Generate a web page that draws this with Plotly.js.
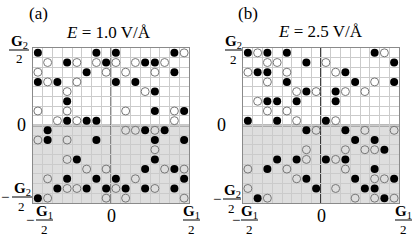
<!DOCTYPE html>
<html>
<head>
<meta charset="utf-8">
<script src="https://cdn.plot.ly/plotly-3.0.1.min.js"></script>
<style>html,body{margin:0;padding:0;background:#fff;}#plot{width:415px;height:240px;}</style>
</head>
<body>
<div id="plot"></div>
<script>
// ---- data: grid cell indices (column from left, row from top), 16x16 grid ----
const aFilledCol = [0,6,8,14, 3,7,11,12, 5,14, 0,2,8,10, 12, 3, 12,15, 3,5,6, 1,11,13, 1,6,12,15, 4,12, 11,14, 3,6,8,15, 2,5,7,9,11,14, 0];
const aFilledRow = [0,0,0,0, 1,1,1,1, 2,2, 3,3,3,3, 4, 5, 6,6, 7,7,7, 8,8,8, 9,9,9,9, 11,11, 12,12, 13,13,13,13, 14,14,14,14,14,14, 15];
const aOpenCol = [15, 1,4,6,8,10,13, 0,7,9,12, 1,4, 3,11, 0,3,9,14, 2,4,14, 9,10,12, 0,3, 12, 3, 5,7,13,15, 1,10, 3,4,8,12, 1,7,9,15];
const aOpenRow = [0, 1,1,1,1,1,1, 2,2,2,2, 3,3, 4,4, 6,6,6,6, 7,7,7, 8,8,8, 9,9, 10, 11, 12,12,12,12, 13,13, 14,14,14,14, 15,15,15,15];

const bFilledCol = [0,2,4,13, 6,15, 1,2,10, 4,11,15, 6,9, 2,3,5,9, 0,3,8, 6,10, 11,13, 14, 3,5,8,10, 2,13, 6,11,15, 7,12,13, 1,14];
const bFilledRow = [0,0,0,0, 1,1, 2,2,2, 3,3,3, 4,4, 5,5,5,5, 7,7,7, 8,8, 9,9, 10, 11,11,11,11, 12,12, 13,13,13, 14,14,14, 15,15];
const bOpenCol = [1,14, 2,3,8, 0,4,9, 2,13, 5,7,10,12, 1, 2,4, 5,9, 7,12,15, 6,10,12,13, 6,9, 0,4,10, 5,13,14, 0,9, 2,11,13,15];
const bOpenRow = [0,0, 1,1,1, 2,2,2, 3,3, 4,4,4,4, 5, 6,6, 7,7, 8,8,8, 10,10,10,10, 11,11, 12,12,12, 13,13,13, 14,14, 15,15,15,15];

const panelLabels = ['(a)', '(b)'];
const fieldValues = ['1.0', '2.5'];

// ---- layout helpers ----
const W = 415, H = 240;
const F = 'Liberation Serif, DejaVu Serif, serif';
const px = x => x / W;
const py = y => 1 - y / H;

const filledMarker = {symbol: 'circle', size: 8, color: '#000', line: {width: 0}};
const openMarker = {symbol: 'circle-open', size: 8, color: '#777', line: {width: 1, color: '#777'}};

const traces = [
  {x: aFilledCol, y: aFilledRow, xaxis: 'x', yaxis: 'y', mode: 'markers', type: 'scatter', marker: filledMarker, hoverinfo: 'skip'},
  {x: aOpenCol, y: aOpenRow, xaxis: 'x', yaxis: 'y', mode: 'markers', type: 'scatter', marker: openMarker, hoverinfo: 'skip'},
  {x: bFilledCol, y: bFilledRow, xaxis: 'x2', yaxis: 'y2', mode: 'markers', type: 'scatter', marker: filledMarker, hoverinfo: 'skip'},
  {x: bOpenCol, y: bOpenRow, xaxis: 'x2', yaxis: 'y2', mode: 'markers', type: 'scatter', marker: openMarker, hoverinfo: 'skip'}
];

function xax(d0, d1, anchor) {
  return {domain: [px(d0), px(d1)], range: [-0.5, 15.5], anchor: anchor, tick0: 0.5, dtick: 1,
    showgrid: true, gridcolor: '#cbcbcb', gridwidth: 1, zeroline: false, showticklabels: false, ticks: '',
    showline: true, mirror: true, linecolor: '#8a8a8a', linewidth: 1, fixedrange: true};
}
function yax(anchor) {
  return {domain: [py(203), py(48)], range: [15.5, -0.5], anchor: anchor, tick0: 0.5, dtick: 1,
    showgrid: true, gridcolor: '#cbcbcb', gridwidth: 1, zeroline: false, showticklabels: false, ticks: '',
    showline: true, mirror: true, linecolor: '#8a8a8a', linewidth: 1, fixedrange: true};
}

const annotations = [];
const shapes = [];
function txt(x, y, text, size) {
  annotations.push({xref: 'paper', yref: 'paper', x: px(x), y: py(y), text: text, showarrow: false,
    xanchor: 'center', yanchor: 'middle', borderpad: 0, font: {family: F, size: size, color: '#000'}});
}
function bar(x0, x1, y) {
  shapes.push({type: 'line', xref: 'paper', yref: 'paper', x0: px(x0), x1: px(x1), y0: py(y), y1: py(y),
    line: {color: '#000', width: 1}});
}
function frac(sub, numX, numY, bx0, bx1, by, denX, denY) {
  txt(numX, numY, '<b>G</b><sub>' + sub + '</sub>', 15);
  bar(bx0, bx1, by);
  txt(denX, denY, '2', 13);
}

// panel (a)
txt(38, 13, panelLabels[0], 17);
txt(108, 33, '<i>E</i> = ' + fieldValues[0] + ' V/Å', 17);
frac('2', 19, 42, 9, 29, 50, 19, 58);
txt(21, 125, '0', 18);
txt(4.5, 197, '−', 15);
frac('2', 22.5, 189, 12, 32, 197, 21, 206);
txt(29.5, 220, '−', 15);
frac('1', 44.5, 212, 36, 53, 220, 44.5, 229);
txt(111, 216, '0', 18);
frac('1', 191.5, 212, 183, 200, 220, 191.5, 229);

// panel (b)
txt(248, 13, panelLabels[1], 17);
txt(320, 32, '<i>E</i> = ' + fieldValues[1] + ' V/Å', 17);
frac('2', 233.5, 42, 225, 242, 50, 233.5, 59);
txt(221, 125, '0', 18);
txt(216.5, 199, '−', 15);
frac('2', 232, 191, 223, 241, 199, 231.5, 208);
txt(235.5, 220, '−', 15);
frac('1', 249.5, 212, 241, 258, 220, 249.5, 229);
txt(321.5, 216, '0', 18);
frac('1', 403.5, 212, 395, 412, 220, 403.5, 229);

// shaded lower half and centre lines (data coordinates)
function panelShapes(xr, yr, vColor, vWidth, hColor, hWidth) {
  shapes.push({type: 'rect', xref: xr, yref: yr, x0: -0.5, x1: 15.5, y0: 7.5, y1: 15.5,
    fillcolor: '#dedede', line: {width: 0}, layer: 'below'});
  shapes.push({type: 'line', xref: xr, yref: yr, x0: 7.5, x1: 7.5, y0: -0.5, y1: 15.5,
    line: {color: vColor, width: vWidth}, layer: 'below'});
  shapes.push({type: 'line', xref: xr, yref: yr, x0: -0.5, x1: 15.5, y0: 7.5, y1: 7.5,
    line: {color: hColor, width: hWidth}, layer: 'below'});
}
panelShapes('x', 'y', '#666', 1.5, '#222', 1.5);
panelShapes('x2', 'y2', '#000', 1.5, '#777', 2);

const layout = {
  width: W, height: H,
  margin: {l: 0, r: 0, t: 0, b: 0, pad: 0},
  paper_bgcolor: '#fff', plot_bgcolor: '#fff',
  showlegend: false,
  xaxis: xax(33, 189, 'y'),
  yaxis: yax('x'),
  xaxis2: xax(243, 399, 'y2'),
  yaxis2: yax('x2'),
  annotations: annotations,
  shapes: shapes
};

Plotly.newPlot('plot', traces, layout, {staticPlot: true, displayModeBar: false});
</script>
</body>
</html>
